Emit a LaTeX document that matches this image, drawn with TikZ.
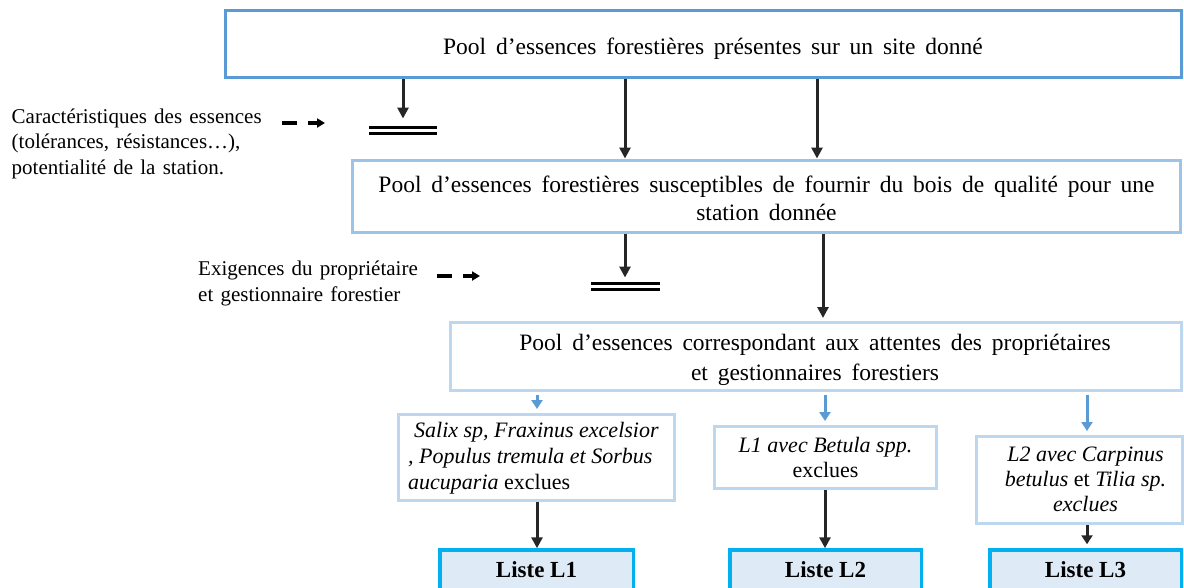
\documentclass[tikz,border=0pt]{standalone}
\usepackage{fontspec}
\setmainfont{Liberation Serif}
\usetikzlibrary{arrows.meta}

\definecolor{topblue}{HTML}{5B9BD5}
\definecolor{midblue}{HTML}{9DC3E6}
\definecolor{paleblue}{HTML}{BDD7EE}
\definecolor{listcyan}{HTML}{00B0F0}
\definecolor{listfill}{HTML}{DEEBF7}
\definecolor{ink}{HTML}{262626}

% font settings for the different text groups (size, line spacing, word spacing)
\newcommand\poolfont[1]{\fontsize{23.5pt}{#1pt}\selectfont\spaceskip=9.8pt plus 2pt minus 1pt\relax}
\newcommand\sidefont[1]{\fontsize{21pt}{#1pt}\selectfont\spaceskip=7.2pt plus 2pt minus 1pt\relax}
\newcommand\notefont[1]{\fontsize{22pt}{#1pt}\selectfont}

\tikzset{
  frame/.style={draw, line width=3pt, inner sep=0pt, outer sep=1.5pt, fill=white},
  mainbox/.style={frame, draw=topblue},
  stepbox/.style={frame, draw=midblue},
  filterbox/.style={frame, draw=paleblue},
  listbox/.style={draw=listcyan, fill=listfill, line width=3.5pt, inner sep=0pt,
    outer sep=1.75pt, minimum height=40pt,
    font=\fontsize{23pt}{27pt}\selectfont\bfseries},
  pooltext/.style={inner sep=0pt, align=center},
  sidetext/.style={inner sep=0pt, align=left, anchor=west},
  notetext/.style={inner sep=0pt},
  flow/.style={draw=ink, line width=3pt, -{Triangle[length=11pt,width=11pt]}},
  branch/.style={draw=topblue, line width=3pt, -{Triangle[length=9pt,width=11pt]},
    shorten <=3pt, shorten >=4pt},
  hint/.style={draw=black, line width=3.5pt, dash pattern=on 15pt off 11pt,
    -{Triangle[length=8pt,width=9pt]}},
  barrier/.style={draw=black, line width=3pt, double distance=3pt},
}

\begin{document}
\begin{tikzpicture}[x=1pt, y=-1pt]
  \useasboundingbox (0,0) rectangle (1184,587);
  \clip (0,0) rectangle (1184,587);

  % column positions of the vertical connectors
  \coordinate (cA) at (625,0);
  \coordinate (cB) at (817,0);
  \coordinate (cC) at (823,0);
  \coordinate (kA) at (537,0);
  \coordinate (kB) at (825,0);
  \coordinate (kC) at (1087,0);

  % boxes of the successive pools
  \node[mainbox, minimum width=956pt, minimum height=67pt] (b1) at (703.5,44) {};
  \node[stepbox, minimum width=828pt, minimum height=72pt] (b2) at (766.5,196) {};
  \node[filterbox, minimum width=730.5pt, minimum height=68pt] (b3) at (815.75,356.5) {};
  \node[filterbox, minimum width=276pt, minimum height=86pt] (b4) at (536.5,457.5) {};
  \node[filterbox, minimum width=222pt, minimum height=62pt] (b5) at (825.5,457.5) {};
  \node[filterbox, minimum width=205.5pt, minimum height=87pt] (b6) at (1079.25,480) {};

  % box texts
  \node[pooltext, font=\poolfont{29}] (t1) at (713,48.5)
    {Pool d’essences forestières présentes sur un site donné};
  \node[pooltext, font=\poolfont{28}] (t2) at (766.5,198.5)
    {Pool d’essences forestières susceptibles de fournir du bois de qualité pour une\\
     station donnée};
  \node[pooltext, font=\poolfont{30}] (t3) at (815,359.5)
    {Pool d’essences correspondant aux attentes des propriétaires\\
     et gestionnaires forestiers};
  \node[notetext, font=\notefont{26}, align=left, anchor=west] (t4) at (408,458)
    {\itshape\hspace*{6pt}Salix sp, Fraxinus excelsior\\
     \itshape , Populus tremula et Sorbus\\
     \itshape aucuparia \upshape exclues};
  \node[notetext, font=\notefont{25}, align=center] (t5) at (825.5,457)
    {\textit{L1 avec Betula spp.}\\exclues};
  \node[notetext, font=\notefont{25}, align=center] (t6) at (1085.5,479.5)
    {\textit{L2 avec Carpinus}\\\textit{betulus} et \textit{Tilia sp.}\\\textit{exclues}};

  % resulting lists
  \node[listbox, minimum width=193.5pt] (L1) at (536.5,570) {Liste L1};
  \node[listbox, minimum width=191.5pt] (L2) at (825.5,570) {Liste L2};
  \node[listbox, minimum width=191.5pt] (L3) at (1085.5,570) {Liste L3};

  % criteria on the left
  \node[sidetext, font=\sidefont{25.5}] (n1) at (11.5,143.6)
    {Caractéristiques des essences\\(tolérances, résistances…),\\potentialité de la station.};
  \node[sidetext, font=\sidefont{26}] (n2) at (198,283.2)
    {Exigences du propriétaire\\et gestionnaire forestier};

  % filters: double bars
  \coordinate (bar1) at (403,130);
  \coordinate (bar2) at (625,286.5);
  \draw[barrier] (369,130) -- (437,130);
  \draw[barrier] (591,286.5) -- (660,286.5);
  \coordinate (in1) at (403,118.5);
  \coordinate (in2) at (625,277.5);

  % dashed hints from the criteria
  \coordinate (h1s) at (282,123);
  \coordinate (h1e) at (325,123);
  \coordinate (h2s) at (437,276);
  \coordinate (h2e) at (480,276);
  \draw[hint] (h1s) -- (h1e);
  \draw[hint] (h2s) -- (h2e);

  % main flow
  \draw[flow] (b1.south -| in1) -- (in1);
  \draw[flow] (b1.south -| cA) -- (b2.north -| cA);
  \draw[flow] (b1.south -| cB) -- (b2.north -| cB);
  \draw[flow] (b2.south -| in2) -- (in2);
  \draw[flow, shorten >=3pt] (b2.south -| cC) -- (b3.north -| cC);

  % branches to the three lists
  \draw[branch] (b3.south -| kA) -- (b4.north -| kA);
  \draw[branch] (b3.south -| kB) -- (b5.north -| kB);
  \draw[branch] (b3.south -| kC) -- (b6.north -| kC);
  \draw[flow] (b4.south -| kA) -- (L1.north -| kA);
  \draw[flow] (b5.south -| kB) -- (L2.north -| kB);
  \draw[flow, shorten >=4pt, -{Triangle[length=9pt,width=11pt]}] (b6.south -| kC) -- (L3.north -| kC);
\end{tikzpicture}
\end{document}
